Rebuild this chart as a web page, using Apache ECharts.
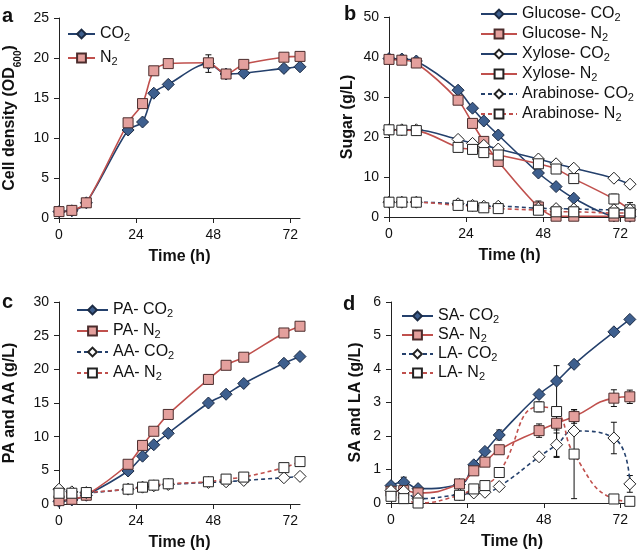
<!DOCTYPE html>
<html>
<head>
<meta charset="utf-8">
<script src="https://cdn.jsdelivr.net/npm/echarts@6/dist/echarts.min.js"></script>
<style>
  html, body { margin: 0; padding: 0; background: #fff; }
  #chart { width: 638px; height: 555px; }
</style>
</head>
<body>
<div id="chart"></div>
<script>
// sampling times (h), shared by all panels
const time = [0, 4, 8.5, 21.5, 26, 29.5, 34, 46.5, 52, 57.5, 70, 75];
const xTicks = [0, 24, 48, 72];

// a - cell density (OD600)
const odCO2 = [0.8, 0.9, 1.9, 11.0, 12.0, 15.6, 16.7, 19.3, 18.0, 18.1, 18.7, 18.9];
const odN2 = [0.8, 0.95, 1.9, 11.9, 14.3, 18.4, 19.3, 19.4, 18.0, 19.2, 20.1, 20.2];
const odCO2Err = [0, 0.3, 0, 0, 0, 0, 0, 1.1, 0, 0.4, 0.4, 0];
const odN2Err = [0, 0, 0, 0, 0, 0, 0, 0.5, 0.3, 0, 0.45, 0];

// b - sugars (g/L)
const glcCO2 = [39.6, 39.5, 39.0, 31.7, 27.2, 24.0, 20.5, 11.0, 7.6, 4.7, 0.3, 0.2];
const glcN2 = [39.4, 39.2, 38.5, 29.2, 23.4, 18.9, 13.9, 2.5, 0.2, 0.2, 0.2, 0.2];
const xylCO2 = [21.8, 21.8, 21.8, 19.4, 18.4, 17.9, 17.0, 14.5, 13.3, 12.2, 9.7, 8.2];
const xylN2 = [21.8, 21.7, 21.6, 17.4, 16.9, 16.1, 15.5, 13.3, 12.0, 9.6, 4.5, 1.8];
const araCO2 = [3.7, 3.7, 3.7, 3.3, 2.9, 2.7, 2.7, 2.2, 2.1, 2.0, 1.8, 1.8];
const araN2 = [3.7, 3.7, 3.7, 2.9, 2.7, 2.3, 2.1, 1.7, 1.3, 1.3, 1.0, 1.0];
const glcN2Err = [0, 0, 0, 0, 0, 0, 0, 1.5, 0, 0, 0, 0];
const xylN2Err = [0, 0, 0, 0, 0, 0, 0, 0, 0, 0, 1.2, 1.8];

// c - propionic and acetic acid (g/L)
const paCO2 = [0.4, 0.6, 1.3, 4.9, 7.1, 8.8, 10.5, 15.0, 16.3, 17.9, 20.9, 21.9];
const paN2 = [0.5, 0.7, 1.3, 5.9, 8.7, 10.8, 13.3, 18.5, 20.6, 21.8, 25.4, 26.4];
const aaCO2 = [2.2, 1.8, 1.7, 2.2, 2.5, 2.7, 2.9, 3.2, 3.3, 3.5, 3.9, 4.1];
const aaN2 = [1.6, 1.6, 1.7, 2.2, 2.5, 2.8, 3.0, 3.3, 3.7, 4.0, 5.4, 6.3];
const paN2Err = [0, 0, 0, 0, 0, 0, 0, 0.5, 0.5, 0, 0, 0];

// d - succinic and lactic acid (g/L)
const saCO2 = [0.52, 0.62, 0.43, 0.55, 1.14, 1.54, 2.03, 3.24, 3.64, 4.14, 5.11, 5.48];
const saN2 = [0.35, 0.37, 0.3, 0.57, 0.96, 1.22, 1.59, 2.16, 2.38, 2.58, 3.13, 3.17];
const laCO2 = [0.37, 0.35, 0.13, 0.25, 0.3, 0.32, 0.49, 1.38, 1.74, 2.15, 1.94, 0.57];
const laN2 = [0.2, 0.13, 0.0, 0.23, 0.42, 0.52, 0.91, 2.87, 2.73, 1.46, 0.12, 0.05];
const saCO2Err = [0, 0.15, 0, 0, 0, 0, 0.15, 0, 0, 0, 0, 0];
const saN2Err = [0, 0, 0, 0, 0, 0, 0, 0.2, 0.2, 0.2, 0.25, 0.2];
const laCO2Err = [0, 0, 0, 0, 0, 0, 0, 0, 0.35, 0, 0.47, 0.25];
const laN2Err = [0, 0, 0, 0, 0, 0, 0, 0.15, 1.37, 1.33, 0, 0];

const FONT = '"Liberation Sans", Arial, sans-serif';
const NAVY = '#24406c';
const RED = '#c0504d';

const styles = {
  co2: { symbol: 'diamond', size: 12, fill: '#3e5f8e', border: '#1c2b44', color: NAVY, dash: 'solid' },
  n2: { symbol: 'rect', size: 10, fill: '#e4a09d', border: '#4b2c2c', color: RED, dash: 'solid' },
  co2o: { symbol: 'diamond', size: 12, fill: '#fff', border: '#222', color: NAVY, dash: 'solid' },
  n2o: { symbol: 'rect', size: 10, fill: '#fff', border: '#222', color: RED, dash: 'solid' },
  co2d: { symbol: 'diamond', size: 12, fill: '#fff', border: '#222', color: NAVY, dash: [4, 3] },
  n2d: { symbol: 'rect', size: 10, fill: '#fff', border: '#222', color: RED, dash: [4, 3] },
};

const pair = (ys) => time.map((t, i) => [t, ys[i]]);

function line(name, idx, ys, kind) {
  const s = styles[kind];
  return {
    name, type: 'line', xAxisIndex: idx, yAxisIndex: idx,
    data: pair(ys), smooth: idx === 3 ? 0.5 : 0.3, z: 3,
    symbol: s.symbol, symbolSize: s.size, showAllSymbol: true,
    lineStyle: { color: s.color, width: 1.6, type: s.dash },
    itemStyle: { color: s.fill, borderColor: s.border, borderWidth: 1 },
    emphasis: { disabled: true },
  };
}

function errs(idx, ys, err) {
  return {
    type: 'custom', xAxisIndex: idx, yAxisIndex: idx, z: 2,
    data: time.map((t, i) => [t, ys[i], err[i]]).filter((d) => d[2] > 0),
    encode: { x: 0, y: 1 },
    renderItem(params, api) {
      const x = api.value(0), y = api.value(1), e = api.value(2);
      const hi = api.coord([x, y + e]);
      const lo = api.coord([x, y - e]);
      const st = { stroke: '#111', lineWidth: 1 };
      return {
        type: 'group',
        children: [
          { type: 'line', shape: { x1: hi[0], y1: hi[1], x2: lo[0], y2: lo[1] }, style: st },
          { type: 'line', shape: { x1: hi[0] - 3, y1: hi[1], x2: hi[0] + 3, y2: hi[1] }, style: st },
          { type: 'line', shape: { x1: lo[0] - 3, y1: lo[1], x2: lo[0] + 3, y2: lo[1] }, style: st },
        ],
      };
    },
  };
}

const grids = [
  { left: 59, top: 18, width: 241, height: 200 },
  { left: 389, top: 17, width: 241, height: 200 },
  { left: 59, top: 302, width: 241, height: 202 },
  { left: 391, top: 302, width: 242, height: 201 },
];

const axisCommon = {
  axisLine: { lineStyle: { color: '#222', width: 1 } },
  axisTick: { length: 5, lineStyle: { color: '#222' } },
  splitLine: { show: false },
  nameTextStyle: { fontFamily: FONT, fontSize: 16, fontWeight: 'bold', color: '#111',
    rich: { s: { fontSize: 10, fontWeight: 'bold', fontFamily: FONT, verticalAlign: 'bottom', padding: [0, 0, -5, 0] } } },
};

const xAxes = [75, 75, 75, 76].map((mx, i) => ({
  ...axisCommon, type: 'value', gridIndex: i, min: 0, max: mx,
  name: 'Time (h)', nameLocation: 'middle', nameGap: 31,
  axisTick: { ...axisCommon.axisTick, customValues: xTicks },
  axisLabel: { customValues: xTicks, fontFamily: FONT, fontSize: 14, color: '#111', margin: 10 },
}));

const yInfo = [
  { max: 25, step: 5, name: 'Cell density (OD{s|600})', gap: 41 },
  { max: 50, step: 10, name: 'Sugar (g/L)', gap: 33 },
  { max: 30, step: 5, name: 'PA and AA (g/L)', gap: 41 },
  { max: 6, step: 1, name: 'SA and LA (g/L)', gap: 27 },
];
const yAxes = yInfo.map((y, i) => ({
  ...axisCommon, type: 'value', gridIndex: i, min: 0, max: y.max, interval: y.step,
  name: y.name, nameLocation: 'middle', nameGap: y.gap,
  axisLabel: { fontFamily: FONT, fontSize: 14, color: '#111', margin: 10 },
}));

const legendCommon = {
  orient: 'vertical', padding: 0, itemHeight: 11,
  selectedMode: false,
  formatter: (n) => n.replace(/([A-Z])2$/, '$1{s|2}'),
  textStyle: { fontFamily: FONT, fontSize: 16, lineHeight: 18, color: '#111',
    rich: { s: { fontSize: 11, lineHeight: 12, fontFamily: FONT, verticalAlign: 'bottom' } } },
};

const option = {
  backgroundColor: '#fff',
  animation: false,
  grid: grids,
  xAxis: xAxes,
  yAxis: yAxes,
  legend: [
    { ...legendCommon, data: ['CO2', 'N2'], left: 67, top: 25, itemWidth: 27, itemGap: 6 },
    { ...legendCommon, data: ['Glucose- CO2', 'Glucose- N2', 'Xylose- CO2', 'Xylose- N2', 'Arabinose- CO2', 'Arabinose- N2'],
      left: 480, top: 5, itemWidth: 36, itemGap: 2 },
    { ...legendCommon, data: ['PA- CO2', 'PA- N2', 'AA- CO2', 'AA- N2'], left: 76, top: 301, itemWidth: 31, itemGap: 3 },
    { ...legendCommon, data: ['SA- CO2', 'SA- N2', 'LA- CO2', 'LA- N2'], left: 401, top: 307, itemWidth: 31, itemGap: 1 },
  ],
  graphic: [
    { type: 'text', left: 2, top: 6, style: { text: 'a', font: 'bold 20px ' + FONT, fill: '#111' } },
    { type: 'text', left: 344, top: 4, style: { text: 'b', font: 'bold 20px ' + FONT, fill: '#111' } },
    { type: 'text', left: 2, top: 292, style: { text: 'c', font: 'bold 20px ' + FONT, fill: '#111' } },
    { type: 'text', left: 343, top: 294, style: { text: 'd', font: 'bold 20px ' + FONT, fill: '#111' } },
  ],
  series: [
    errs(0, odCO2, odCO2Err), errs(0, odN2, odN2Err),
    line('CO2', 0, odCO2, 'co2'),
    line('N2', 0, odN2, 'n2'),

    errs(1, glcN2, glcN2Err), errs(1, xylN2, xylN2Err),
    line('Glucose- CO2', 1, glcCO2, 'co2'),
    line('Glucose- N2', 1, glcN2, 'n2'),
    line('Xylose- CO2', 1, xylCO2, 'co2o'),
    line('Xylose- N2', 1, xylN2, 'n2o'),
    line('Arabinose- CO2', 1, araCO2, 'co2d'),
    line('Arabinose- N2', 1, araN2, 'n2d'),

    errs(2, paN2, paN2Err),
    line('PA- CO2', 2, paCO2, 'co2'),
    line('PA- N2', 2, paN2, 'n2'),
    line('AA- CO2', 2, aaCO2, 'co2d'),
    line('AA- N2', 2, aaN2, 'n2d'),

    errs(3, saCO2, saCO2Err), errs(3, saN2, saN2Err),
    errs(3, laCO2, laCO2Err), errs(3, laN2, laN2Err),
    line('SA- CO2', 3, saCO2, 'co2'),
    line('SA- N2', 3, saN2, 'n2'),
    line('LA- CO2', 3, laCO2, 'co2d'),
    line('LA- N2', 3, laN2, 'n2d'),
  ],
};

const chart = echarts.init(document.getElementById('chart'));
chart.setOption(option);
</script>
</body>
</html>
